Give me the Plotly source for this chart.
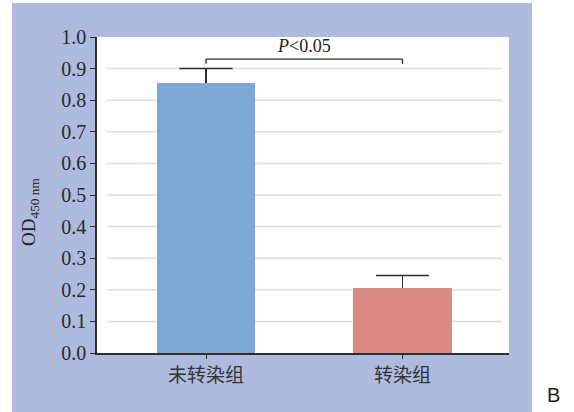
import plotly.graph_objects as go

# ---- data ----
categories = ["未转染组", "转染组"]
od_values = [0.856, 0.207]
od_errors = [0.044, 0.038]
bar_colors = ["#7ea7d3", "#db8b82"]
y_ticks = [0.0, 0.1, 0.2, 0.3, 0.4, 0.5, 0.6, 0.7, 0.8, 0.9, 1.0]
grid_values = [0.1, 0.2, 0.3, 0.4, 0.5, 0.6, 0.7, 0.8, 0.9]
bracket_y = 0.93
bracket_drop = 0.015
sig_label = "<i>P</i>&lt;0.05"

BG_BLUE = "#aebbdf"
AXIS_COL = "#2e2e2e"
SERIF = "Liberation Serif"

x_pos = list(range(len(categories)))
err_tops = [v + e for v, e in zip(od_values, od_errors)]

fig = go.Figure()
fig.add_trace(go.Bar(
    x=x_pos,
    y=od_values,
    width=0.5,
    marker=dict(color=bar_colors, line=dict(width=0)),
    error_y=dict(type="data", array=od_errors, arrayminus=[0] * len(od_values),
                 symmetric=False, color=AXIS_COL, thickness=1.5, width=0),
    showlegend=False,
))
# caps of error bars (top only)
fig.add_trace(go.Scatter(
    x=x_pos, y=err_tops, mode="markers",
    marker=dict(symbol="line-ew-open", size=38, color=AXIS_COL,
                line=dict(color=AXIS_COL, width=1.5)),
    hoverinfo="skip", showlegend=False,
))

shapes = []
# white margins outside the blue panel
shapes.append(dict(type="rect", xref="paper", yref="paper",
                   x0=1.0558, x1=1.3, y0=-0.3, y1=1.3,
                   fillcolor="white", line=dict(width=0), layer="below"))
shapes.append(dict(type="rect", xref="paper", yref="paper",
                   x0=-0.3, x1=1.3, y0=1.1076, y1=1.3,
                   fillcolor="white", line=dict(width=0), layer="below"))
shapes.append(dict(type="rect", xref="paper", yref="paper",
                   x0=-0.3, x1=-0.2063, y0=-0.3, y1=1.3,
                   fillcolor="white", line=dict(width=0), layer="below"))
# grid lines
for g in grid_values:
    shapes.append(dict(type="line", xref="paper", yref="y",
                       x0=0.024, x1=0.983, y0=g, y1=g,
                       line=dict(color="#dedede", width=1.5), layer="below"))
# significance bracket
shapes.append(dict(type="line", xref="x", yref="y", x0=0, x1=1,
                   y0=bracket_y, y1=bracket_y, line=dict(color=AXIS_COL, width=1.3)))
shapes.append(dict(type="line", xref="x", yref="y", x0=0, x1=0,
                   y0=bracket_y, y1=bracket_y - bracket_drop, line=dict(color=AXIS_COL, width=1.3)))
shapes.append(dict(type="line", xref="x", yref="y", x0=1, x1=1,
                   y0=bracket_y, y1=bracket_y - bracket_drop, line=dict(color=AXIS_COL, width=1.3)))

annotations = [
    dict(x=0.5, y=bracket_y + 0.005, xref="x", yref="y", text=sig_label,
         showarrow=False, yanchor="bottom", xanchor="center",
         font=dict(family=SERIF, size=18, color="#222222")),
    dict(x=-0.163, y=0.446, xref="paper", yref="paper",
         text="OD<sub>450 nm</sub>", textangle=-90, showarrow=False,
         xanchor="center", yanchor="middle",
         font=dict(family=SERIF, size=19, color="#222222")),
    dict(x=1.109, y=-0.133, xref="paper", yref="paper", text="B",
         showarrow=False, xanchor="center", yanchor="middle",
         font=dict(family="Liberation Sans", size=20, color="#222222")),
]

fig.update_layout(
    width=574, height=412,
    margin=dict(l=97, r=65, t=37, b=59),
    paper_bgcolor=BG_BLUE,
    plot_bgcolor="white",
    shapes=shapes,
    annotations=annotations,
    bargap=0,
)
fig.update_xaxes(
    range=[-0.5547, 1.542],
    tickmode="array", tickvals=x_pos, ticktext=categories,
    showgrid=False, zeroline=False,
    showline=True, linecolor=AXIS_COL, linewidth=1.5,
    ticks="outside", ticklen=4, tickwidth=1.3, tickcolor=AXIS_COL,
    tickfont=dict(family="Noto Sans CJK SC", size=19, color="#333333"),
)
fig.update_yaxes(
    range=[0, 1.0],
    tickmode="array", tickvals=y_ticks,
    ticktext=[f"{v:.1f}" for v in y_ticks],
    showgrid=False, zeroline=False,
    showline=True, linecolor=AXIS_COL, linewidth=1.5,
    ticks="outside", ticklen=5, tickwidth=1.3, tickcolor=AXIS_COL,
    tickfont=dict(family=SERIF, size=20, color="#2a2a2a"),
)

fig.write_html("out.html")
